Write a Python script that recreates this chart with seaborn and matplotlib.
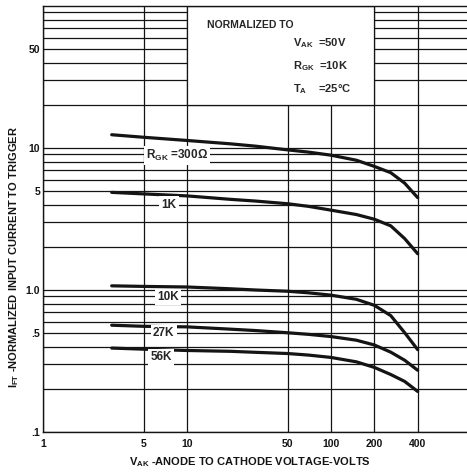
import numpy as np
import pandas as pd
import matplotlib
matplotlib.use("Agg")
import matplotlib.pyplot as plt
from matplotlib.patches import Rectangle
from matplotlib.ticker import LogLocator, NullLocator, NullFormatter
import seaborn as sns

# values (log-log)
vak = [3, 5, 10, 20, 30, 50, 70, 100, 150, 200, 260, 325, 400]
ift_300 = [12.4, 11.9, 11.3, 10.7, 10.3, 9.7, 9.35, 8.9, 8.2, 7.42, 6.7, 5.65, 4.47]
ift_1k = [4.87, 4.75, 4.6, 4.35, 4.23, 4.05, 3.88, 3.65, 3.4, 3.15, 2.83, 2.30, 1.80]
ift_10k = [1.07, 1.06, 1.05, 1.02, 1.0, 0.98, 0.955, 0.92, 0.86, 0.78, 0.66, 0.50, 0.38]
ift_27k = [0.565, 0.555, 0.55, 0.53, 0.518, 0.50, 0.487, 0.47, 0.443, 0.41, 0.365, 0.32, 0.272]
ift_56k = [0.39, 0.383, 0.375, 0.37, 0.364, 0.357, 0.348, 0.335, 0.312, 0.285, 0.254, 0.227, 0.193]
series_names = ["300", "1K", "10K", "27K", "56K"]

x_ticks = [1, 5, 10, 50, 100, 200, 400]
x_ticklabels = ["1", "5", "10", "50", "100", "200", "400"]
y_ticks = [0.1, 0.5, 1, 5, 10, 50]
y_ticklabels = [".1", ".5", "1.0", "5", "10", "50"]

# curve labels: text, x, y
curve_labels = [
    (r"$\mathbf{R_{GK}}$ =300Ω", 8.5, 8.9),
    ("1K", 7.5, 4.0),
    ("10K", 7.4, 0.89),
    ("27K", 6.9, 0.495),
    ("56K", 6.6, 0.335),
]

df = pd.concat([
    pd.DataFrame({"vak": vak, "ift": vals, "rgk": name})
    for name, vals in zip(series_names, [ift_300, ift_1k, ift_10k, ift_27k, ift_56k])
])

sns.set_style("white")
plt.rcParams["font.family"] = ["Liberation Sans", "DejaVu Sans"]
plt.rcParams["font.weight"] = "bold"
plt.rcParams["mathtext.fontset"] = "custom"
plt.rcParams["mathtext.rm"] = "Liberation Sans:bold"
plt.rcParams["mathtext.bf"] = "Liberation Sans:bold"
plt.rcParams["mathtext.it"] = "Liberation Sans:bold"

ink = "#141414"
fig = plt.figure(figsize=(4.67, 4.75), dpi=100)
ax = fig.add_axes([43 / 467, 1 - 432 / 475, 424 / 467, 426 / 475])

sns.lineplot(data=df, x="vak", y="ift", hue="rgk", palette=[ink] * 5,
             linewidth=2.3, legend=False, ax=ax, zorder=3)

ax.set_xscale("log")
ax.set_yscale("log")
ax.set_xlim(1, 10 ** (424 / 144))
ax.set_ylim(0.1, 100)

ax.set_xticks(x_ticks)
ax.set_xticklabels(x_ticklabels)
ax.xaxis.set_minor_locator(NullLocator())
ax.set_yticks(y_ticks)
ax.set_yticklabels(y_ticklabels)
ax.yaxis.set_minor_locator(LogLocator(base=10, subs=np.arange(2, 10)))
ax.yaxis.set_minor_formatter(NullFormatter())
ax.tick_params(axis="both", which="both", length=0, labelsize=7.5, colors=ink)
ax.tick_params(axis="x", pad=5)
ax.tick_params(axis="y", pad=2)

ax.set_axisbelow(True)
ax.grid(True, axis="x", which="major", color=ink, lw=0.9)
ax.grid(True, axis="y", which="both", color=ink, lw=0.9)
for side in ["left", "bottom", "top"]:
    ax.spines[side].set_color(ink)
    ax.spines[side].set_linewidth(1.0)
ax.spines["right"].set_visible(False)

# white "normalized to" box
ax.add_patch(Rectangle((10, 20), 190, 80, facecolor="white", edgecolor=ink,
                       lw=0.9, zorder=1.5))
ax.text(0.488, 0.955, "NORMALIZED TO", transform=ax.transAxes, ha="center",
        va="center", fontsize=7.5, fontweight="bold", zorder=4)
ax.text(0.590, 0.912, r"$\mathbf{V_{AK}}$  =50V", transform=ax.transAxes,
        ha="left", va="center", fontsize=8, zorder=4)
ax.text(0.590, 0.858, r"$\mathbf{R_{GK}}$  =10K", transform=ax.transAxes,
        ha="left", va="center", fontsize=8, zorder=4)
ax.text(0.590, 0.804, r"$\mathbf{T_{A}}$    =25°C", transform=ax.transAxes,
        ha="left", va="center", fontsize=8, zorder=4)

for txt, x, y in curve_labels:
    ax.text(x, y, txt, ha="center", va="center", fontsize=8.5, fontweight="bold",
            zorder=4, bbox=dict(facecolor="white", edgecolor="none", pad=1.5))

ax.set_xlabel(r"$\mathbf{V_{AK}}$ -ANODE TO CATHODE VOLTAGE-VOLTS",
              fontsize=8, fontweight="bold", color=ink)
ax.set_ylabel(r"$\mathbf{I_{FT}}$ -NORMALIZED INPUT CURRENT TO TRIGGER",
              fontsize=8, fontweight="bold", color=ink)
ax.xaxis.set_label_coords(0.488, -0.054)
ax.yaxis.set_label_coords(-0.052, 0.41)

fig.savefig("out.png", dpi=100)
